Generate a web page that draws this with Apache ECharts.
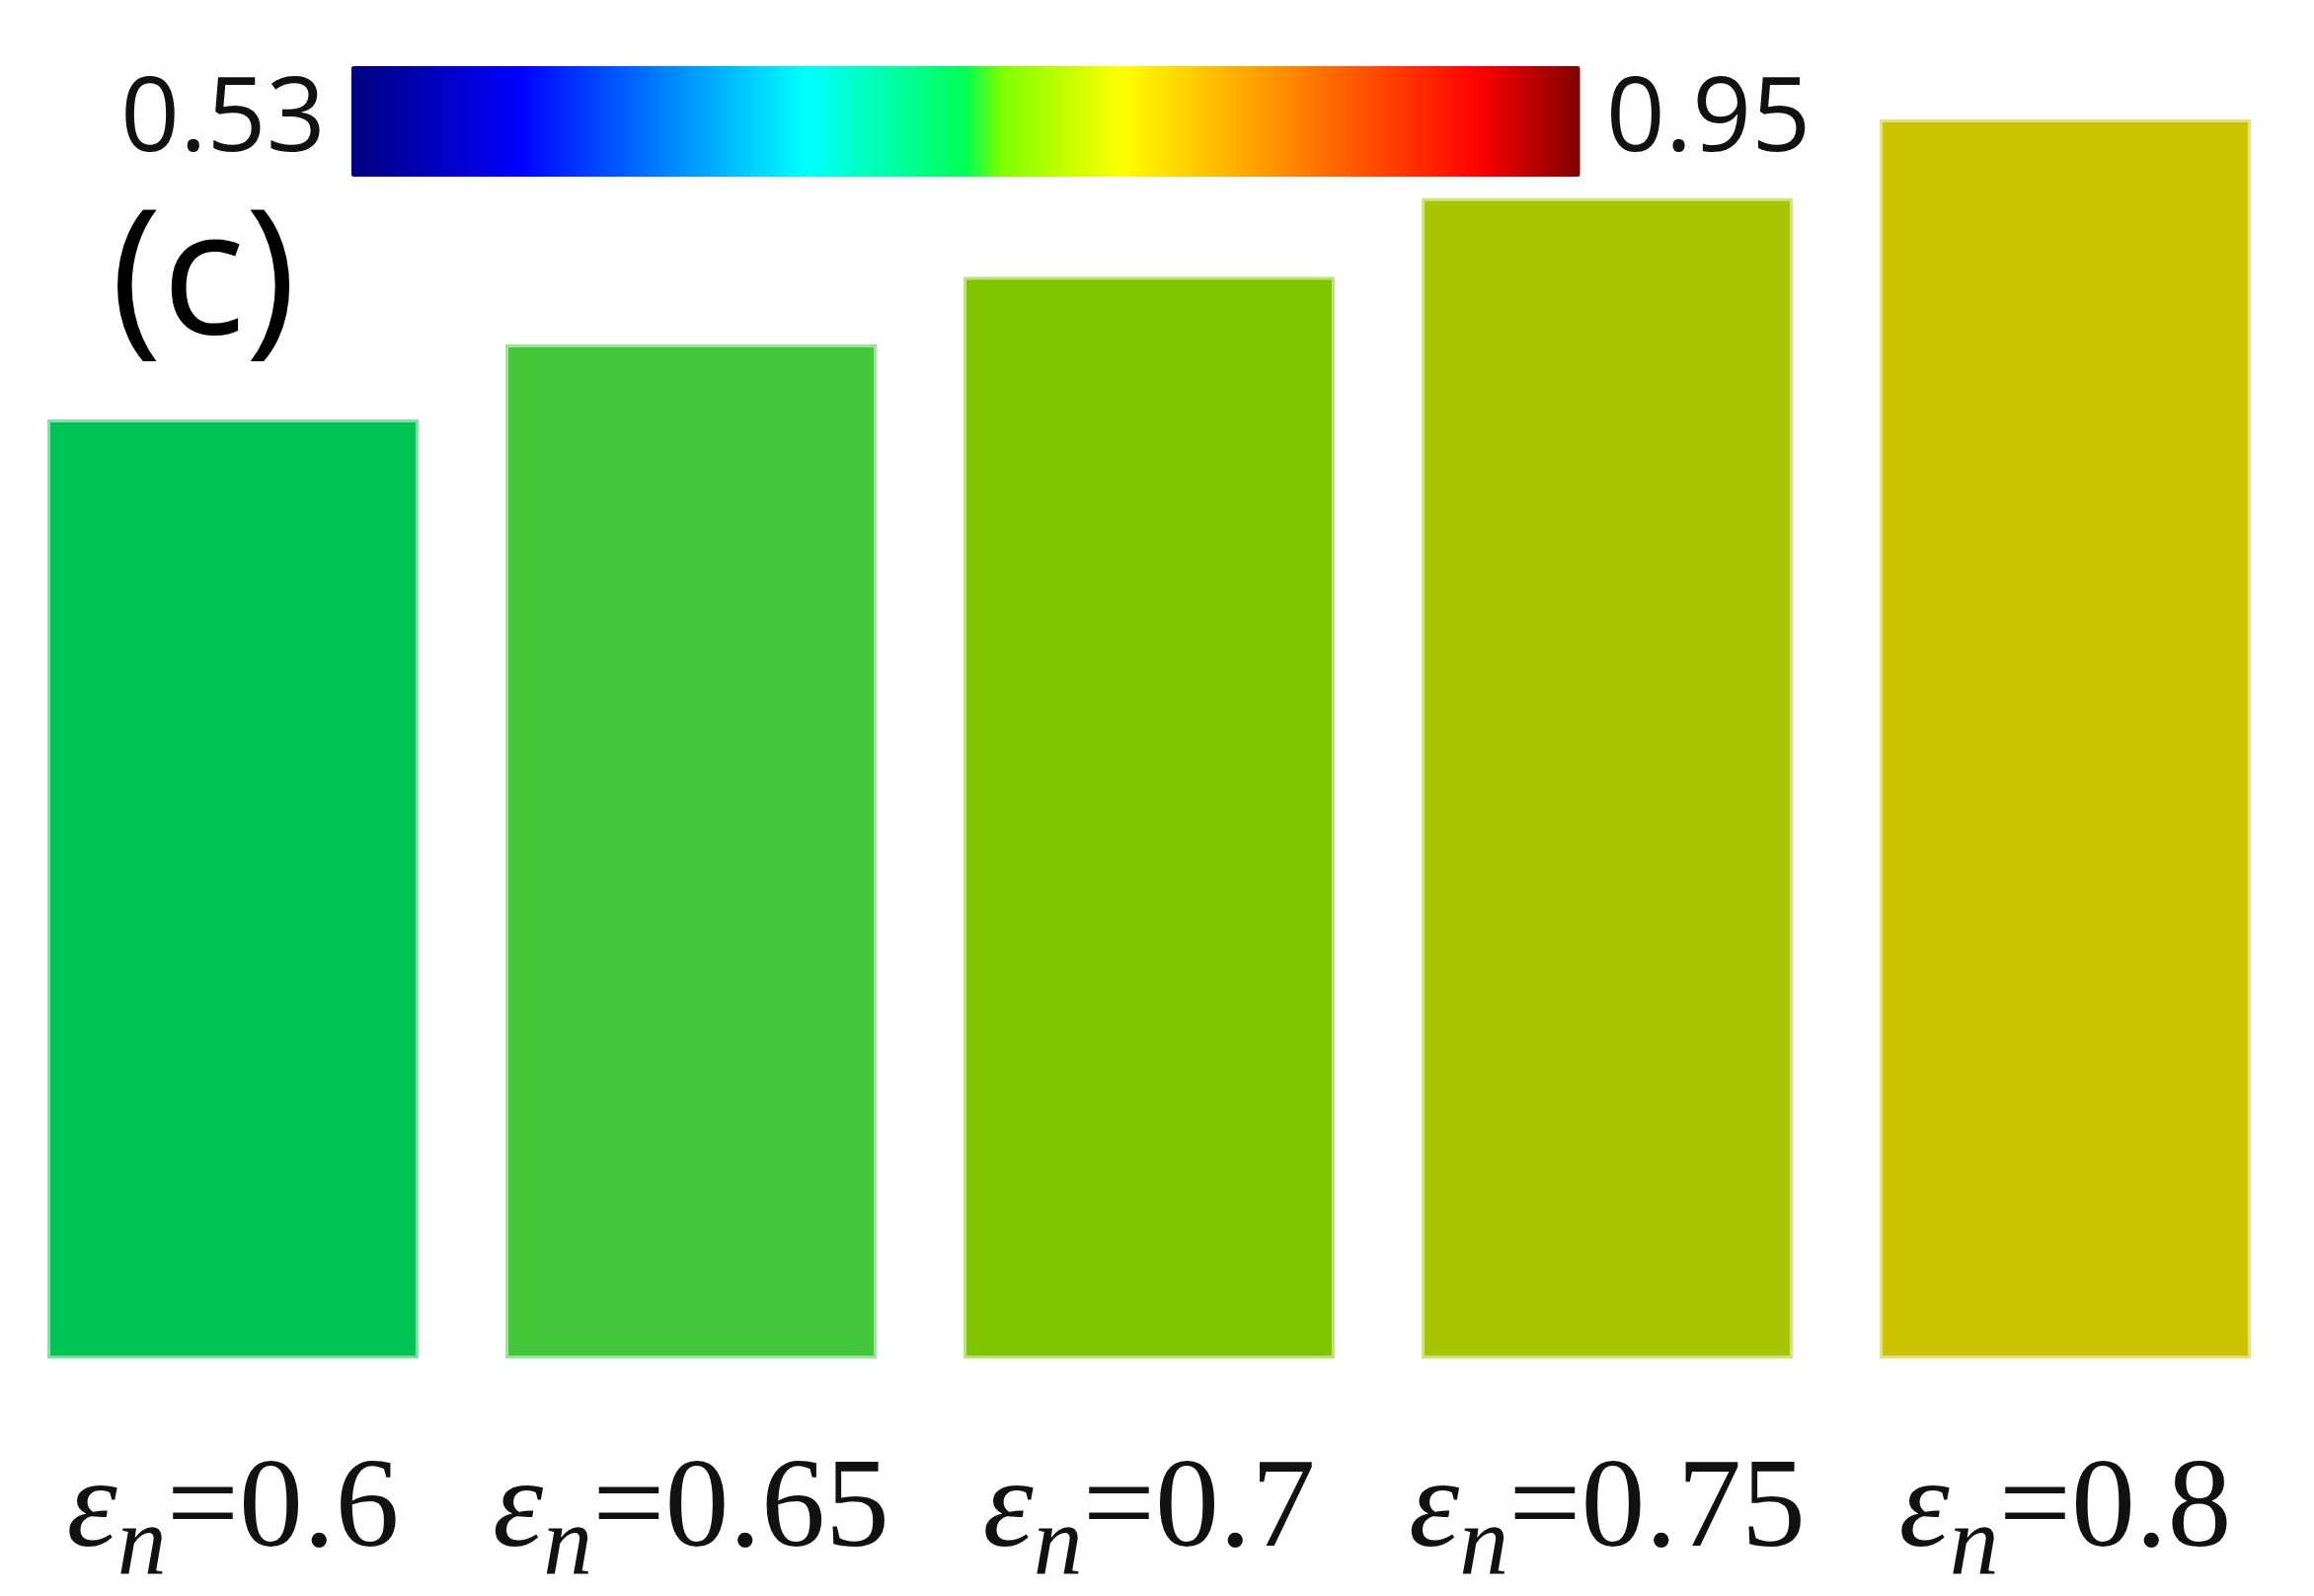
<!DOCTYPE html>
<html><head><meta charset="utf-8">
<script src="https://cdn.jsdelivr.net/npm/echarts@6/dist/echarts.min.js"></script>
<style>html,body{margin:0;padding:0;background:#fff}#c{width:2344px;height:1617px}</style>
</head><body><div id="c"></div>
<script>
// ---- data ----
const categories = ['0.6', '0.65', '0.7', '0.75', '0.8'];
const values = [0.72, 0.74, 0.758, 0.779, 0.80];
const barColors = ['#00C355', '#43C63A', '#80C600', '#A8C600', '#CBC200'];
const edgeColors = ['#7FE0A6', '#9FE29A', '#BCE27F', '#D2E27F', '#E4E07F'];
const colorbarMin = 0.53;
const colorbarMax = 0.95;
const colorbarLabels = ['0.95', '0.53'];
const panelLabel = '(c)';
// colour ramp of the colour bar (position, colour)
const rampStops = [[0, '#00007F'], [0.137, '#0000FF'], [0.37, '#00FFFF'], [0.50, '#00FF55'],
  [0.53, '#80FF00'], [0.626, '#FFFF00'], [0.73, '#FFA500'], [0.917, '#FF0000'], [1, '#7F0000']];

function hex2rgb(h) { return [1, 3, 5].map(i => parseInt(h.substr(i, 2), 16)); }
function rampAt(t) {
  for (let i = 1; i < rampStops.length; i++) {
    if (t <= rampStops[i][0]) {
      const [p0, c0] = rampStops[i - 1], [p1, c1] = rampStops[i];
      const f = (t - p0) / (p1 - p0), a = hex2rgb(c0), b = hex2rgb(c1);
      return 'rgb(' + a.map((v, k) => Math.round(v + (b[k] - v) * f)).join(',') + ')';
    }
  }
  return rampStops[rampStops.length - 1][1];
}
const ramp = [];
for (let i = 0; i <= 100; i++) ramp.push(rampAt(i / 100));

const chart = echarts.init(document.getElementById('c'));
chart.setOption({
  animation: false,
  backgroundColor: '#ffffff',
  grid: { left: 4, right: 20, top: 121, bottom: 242, containLabel: false, outerBoundsMode: 'none' },
  xAxis: {
    type: 'category',
    data: categories,
    axisLine: { show: false },
    axisTick: { show: false },
    axisLabel: {
      margin: 82,
      formatter: v => '{e|ε}{n|n}{t|=' + v + '}',
      rich: {
        e: { fontFamily: 'Liberation Serif', fontStyle: 'italic', fontSize: 130, lineHeight: 150, color: '#111' },
        n: { fontFamily: 'Liberation Serif', fontStyle: 'italic', fontSize: 100, lineHeight: 78, padding: [72, 0, 0, 0], color: '#111' },
        t: { fontFamily: 'Liberation Serif', fontSize: 130, lineHeight: 150, color: '#111' }
      }
    }
  },
  yAxis: { type: 'value', min: 0.47, max: 0.80, show: false },
  visualMap: {
    type: 'continuous',
    orient: 'horizontal',
    min: colorbarMin,
    max: colorbarMax,
    seriesIndex: 1,
    left: 107,
    top: 52,
    itemWidth: 112,
    itemHeight: 1245,
    text: colorbarLabels,
    textGap: 26,
    calculable: false,
    hoverLink: false,
    textStyle: { fontFamily: 'Open Sans', fontSize: 105, color: '#111' },
    inRange: { color: ramp }
  },
  graphic: [{
    type: 'text', left: 112, top: 200,
    style: { text: panelLabel, font: '176px "Open Sans"', fill: '#000' }
  }],
  series: [{
    type: 'bar',
    barCategoryGap: '19%',
    data: values.map((v, i) => ({ value: v, itemStyle: { color: barColors[i], borderColor: edgeColors[i], borderWidth: 3 } }))
  }, {
    type: 'scatter', data: [], silent: true
  }]
});
</script></body></html>
